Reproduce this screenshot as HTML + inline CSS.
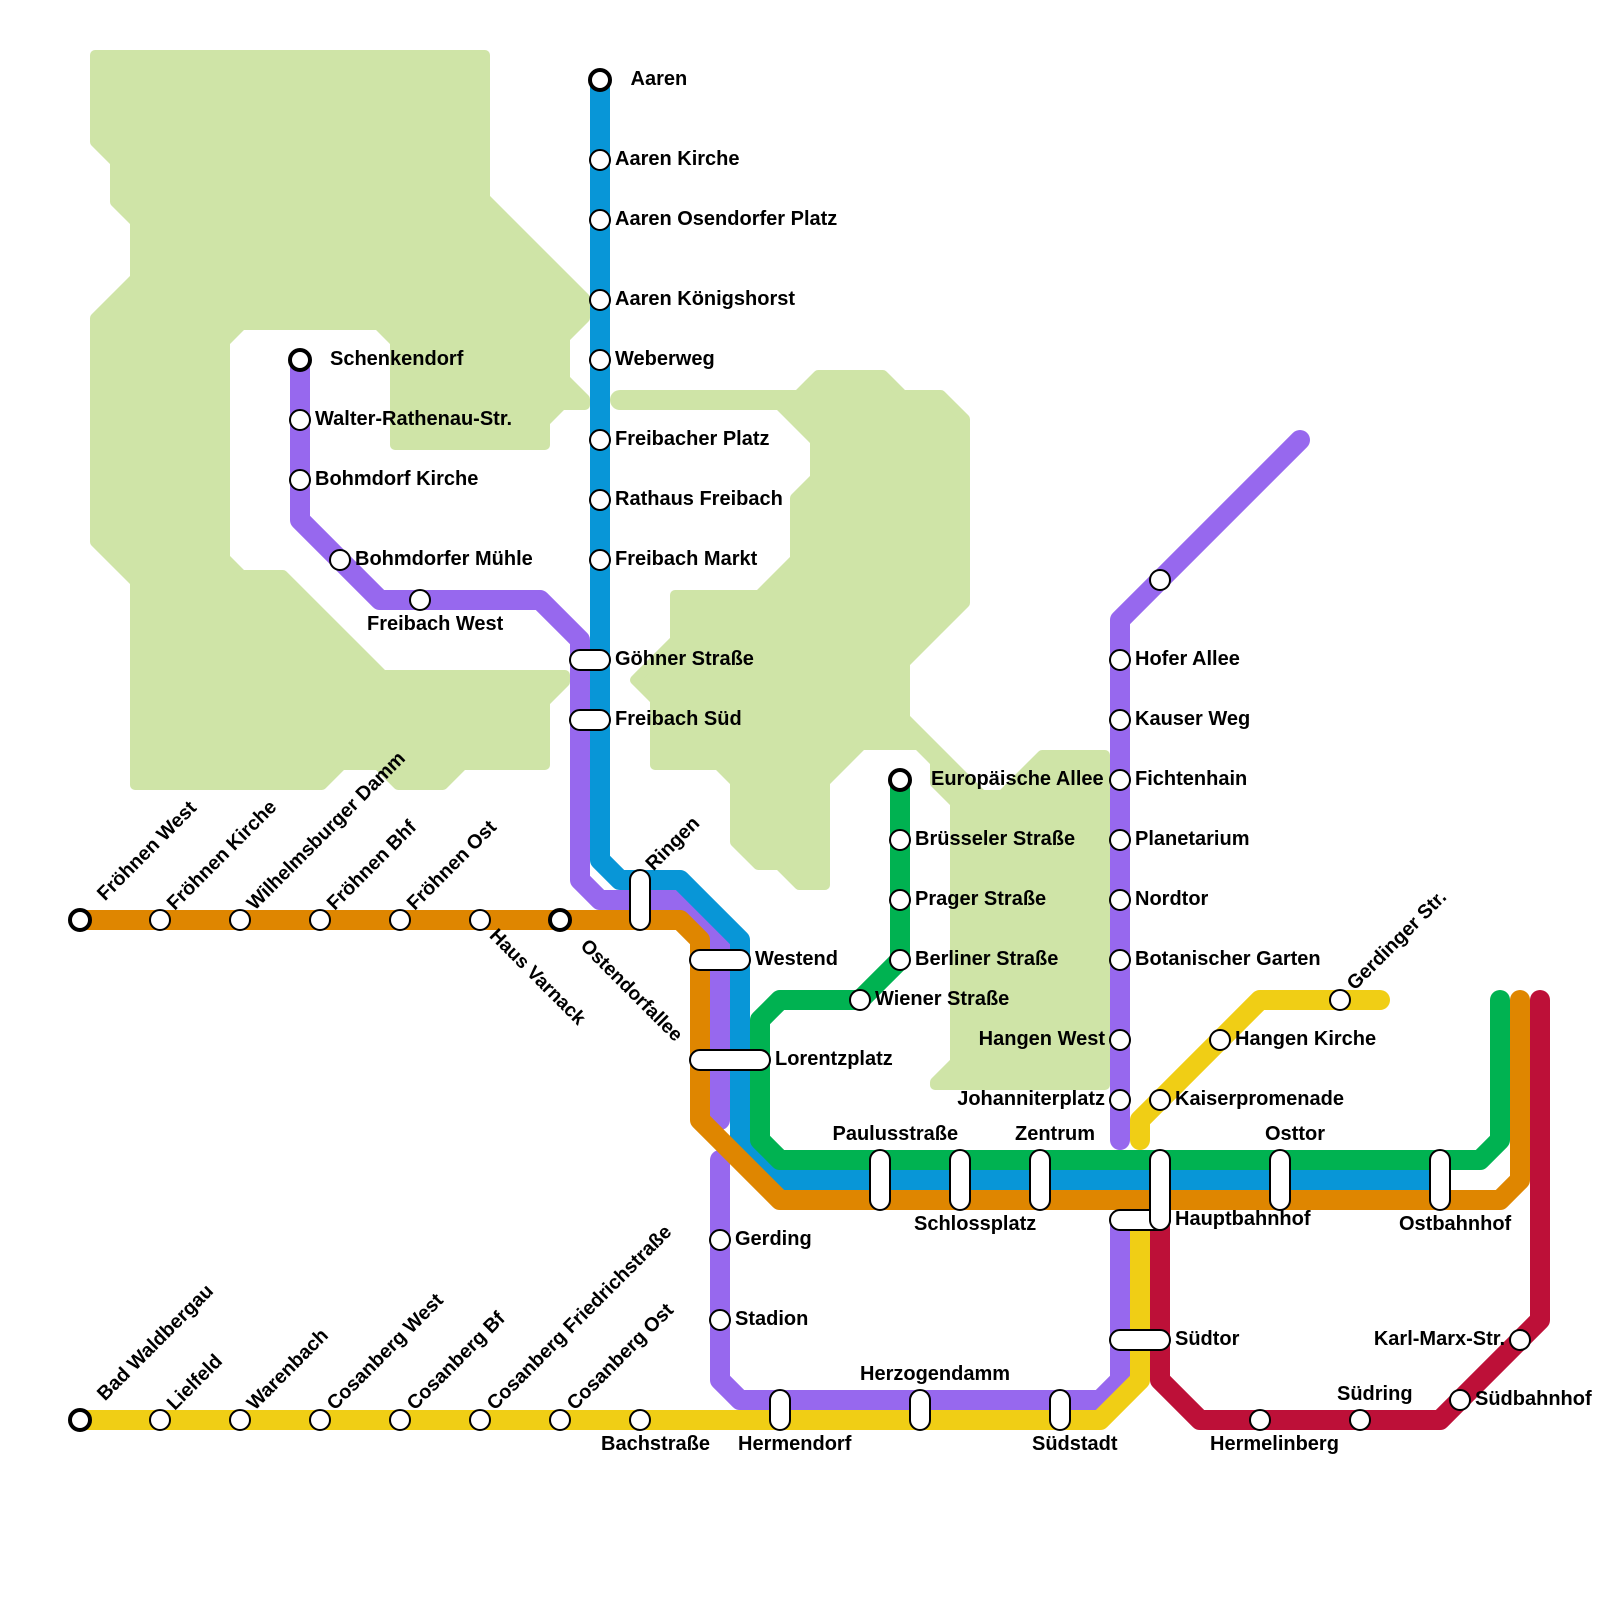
<!DOCTYPE html>
<html><head><meta charset="utf-8"><style>
html,body{margin:0;padding:0;background:#fff}
svg{display:block}
text{font-family:"Liberation Sans",sans-serif;font-weight:bold;font-size:20px;fill:#000}
text.r{font-size:19.7px}
text.d{font-size:19.3px}
.l{fill:none;stroke-width:20;stroke-linecap:round;stroke-linejoin:round}
.s circle{fill:#fff;stroke:#000;stroke-width:2}
.s circle.e{stroke-width:4}
.s rect{fill:#fff;stroke:#000;stroke-width:2}
.g{fill:#cfe4a7;stroke:#cfe4a7;stroke-width:10;stroke-linejoin:round}
</style></head><body>
<svg xmlns="http://www.w3.org/2000/svg" width="1600" height="1600" viewBox="0 0 1600 1600">
<rect width="1600" height="1600" fill="#fff"/>
<polygon class="g" points="95,55 485,55 485,198.07 585,298.07 585,317.93 565,337.93 565,379.07 585,399.07 585,405 561.93,405 545,421.93 545,445 395,445 395,341.93 378.07,325 241.93,325 225,341.93 225,558.07 241.93,575 282.93,575 382.93,675 565,675 565,681.93 545,701.93 545,765 462.93,765 442.93,785 398.07,785 378.07,765 341.93,765 321.93,785 135,785 135,581.93 95,541.93 95,318.07 135,278.07 135,221.93 115,201.93 115,161.93 95,141.93"/>
<polygon class="g" points="640,395 798.07,395 818.07,375 882.93,375 902.93,395 940.93,395 965,419.07 965,602.93 905,662.93 905,718.07 981.93,795 1002.07,795 1042.07,755 1105,755 1105,1085 935,1085 935,1082.07 955,1062.07 955,802.93 935,782.93 935,761.93 918.07,745 861.93,745 825,781.93 825,885 799.07,885 779.07,865 758.07,865 735,841.93 735,781.93 718.07,765 655,765 655,699.93 635,680 675,640.07 675,595 759.07,595 795,559.07 795,498.07 815,478.07 815,440.93 779.07,405 640,405"/>
<line x1="620" y1="400" x2="700" y2="400" stroke="#cfe4a7" stroke-width="20" stroke-linecap="round"/>
<polyline class="l" stroke="#9768ee" points="300,360 300,520 380,600 540,600 580,640 580,880 600,900 680,900 720,940 720,1120"/>
<polyline class="l" stroke="#9768ee" points="720,1160 720,1380 740,1400 1100,1400 1120,1380 1120,1220"/>
<polyline class="l" stroke="#9768ee" points="1300,440 1120,620 1120,1140"/>
<polyline class="l" stroke="#0896d7" points="600,80 600,860 620,880 680,880 740,940 740,1140 780,1180 1440,1180"/>
<polyline class="l" stroke="#00b251" points="900,780 900,960 860,1000 780,1000 760,1020 760,1140 780,1160 1480,1160 1500,1140 1500,1000"/>
<polyline class="l" stroke="#df8600" points="80,920 680,920 700,940 700,1120 780,1200 1500,1200 1520,1180 1520,1000"/>
<polyline class="l" stroke="#bd1038" points="1160,1220 1160,1380 1200,1420 1440,1420 1540,1320 1540,1000"/>
<polyline class="l" stroke="#f0ce15" points="80,1420 1100,1420 1140,1380 1140,1220"/>
<polyline class="l" stroke="#f0ce15" points="1140,1140 1140,1120 1260,1000 1380,1000"/>
<g class="s">
<circle class="e" cx="600" cy="80" r="10"/><circle cx="600" cy="160" r="10"/><circle cx="600" cy="220" r="10"/><circle cx="600" cy="300" r="10"/><circle cx="600" cy="360" r="10"/><circle cx="600" cy="440" r="10"/><circle cx="600" cy="500" r="10"/><circle cx="600" cy="560" r="10"/>
<circle class="e" cx="300" cy="360" r="10"/><circle cx="300" cy="420" r="10"/><circle cx="300" cy="480" r="10"/><circle cx="340" cy="560" r="10"/><circle cx="420" cy="600" r="10"/>
<circle class="e" cx="80" cy="920" r="10"/><circle cx="160" cy="920" r="10"/><circle cx="240" cy="920" r="10"/><circle cx="320" cy="920" r="10"/><circle cx="400" cy="920" r="10"/><circle cx="480" cy="920" r="10"/><circle class="e" cx="560" cy="920" r="10"/>
<circle class="e" cx="80" cy="1420" r="10"/><circle cx="160" cy="1420" r="10"/><circle cx="240" cy="1420" r="10"/><circle cx="320" cy="1420" r="10"/><circle cx="400" cy="1420" r="10"/><circle cx="480" cy="1420" r="10"/><circle cx="560" cy="1420" r="10"/><circle cx="640" cy="1420" r="10"/>
<circle class="e" cx="900" cy="780" r="10"/><circle cx="900" cy="840" r="10"/><circle cx="900" cy="900" r="10"/><circle cx="900" cy="960" r="10"/><circle cx="860" cy="1000" r="10"/>
<circle cx="1160" cy="580" r="10"/><circle cx="1120" cy="660" r="10"/><circle cx="1120" cy="720" r="10"/><circle cx="1120" cy="780" r="10"/><circle cx="1120" cy="840" r="10"/><circle cx="1120" cy="900" r="10"/><circle cx="1120" cy="960" r="10"/><circle cx="1120" cy="1040" r="10"/><circle cx="1120" cy="1100" r="10"/>
<circle cx="720" cy="1240" r="10"/><circle cx="720" cy="1320" r="10"/>
<circle cx="1160" cy="1100" r="10"/><circle cx="1220" cy="1040" r="10"/><circle cx="1340" cy="1000" r="10"/>
<circle cx="1260" cy="1420" r="10"/><circle cx="1360" cy="1420" r="10"/><circle cx="1460" cy="1400" r="10"/><circle cx="1520" cy="1340" r="10"/>
<rect x="570" y="650" width="40" height="20" rx="10"/><rect x="570" y="710" width="40" height="20" rx="10"/>
<rect x="630" y="870" width="20" height="60" rx="10"/>
<rect x="690" y="950" width="60" height="20" rx="10"/><rect x="690" y="1050" width="80" height="20" rx="10"/>
<rect x="870" y="1150" width="20" height="60" rx="10"/><rect x="950" y="1150" width="20" height="60" rx="10"/><rect x="1030" y="1150" width="20" height="60" rx="10"/>
<rect x="1110" y="1210" width="60" height="20" rx="10"/><rect x="1150" y="1150" width="20" height="80" rx="10"/>
<rect x="1270" y="1150" width="20" height="60" rx="10"/><rect x="1430" y="1150" width="20" height="60" rx="10"/>
<rect x="1110" y="1330" width="60" height="20" rx="10"/>
<rect x="770" y="1390" width="20" height="40" rx="10"/><rect x="910" y="1390" width="20" height="40" rx="10"/><rect x="1050" y="1390" width="20" height="40" rx="10"/>
</g>
<g>
<text x="630.5" y="85">Aaren</text><text x="615" y="165">Aaren Kirche</text><text x="615" y="225">Aaren Osendorfer Platz</text><text x="615" y="305">Aaren Königshorst</text><text x="615" y="365">Weberweg</text><text x="615" y="445">Freibacher Platz</text><text x="615" y="505">Rathaus Freibach</text><text x="615" y="565">Freibach Markt</text><text x="615" y="665">Göhner Straße</text><text x="615" y="725">Freibach Süd</text>
<text x="330" y="365">Schenkendorf</text><text x="315" y="425">Walter-Rathenau-Str.</text><text x="315" y="485">Bohmdorf Kirche</text><text x="355" y="565">Bohmdorfer Mühle</text><text x="367" y="630">Freibach West</text>
<text x="755" y="965">Westend</text><text x="775" y="1065">Lorentzplatz</text>
<text x="931" y="785">Europäische Allee</text><text x="915" y="845">Brüsseler Straße</text><text x="915" y="905">Prager Straße</text><text x="915" y="965">Berliner Straße</text><text x="875" y="1005">Wiener Straße</text>
<text x="1135" y="665">Hofer Allee</text><text x="1135" y="725">Kauser Weg</text><text x="1135" y="785">Fichtenhain</text><text x="1135" y="845">Planetarium</text><text x="1135" y="905">Nordtor</text><text x="1135" y="965">Botanischer Garten</text>
<text x="1105" y="1045" text-anchor="end">Hangen West</text><text x="1105" y="1105" text-anchor="end">Johanniterplatz</text>
<text x="1235" y="1045">Hangen Kirche</text><text x="1175" y="1105">Kaiserpromenade</text>
<text x="832.5" y="1140">Paulusstraße</text><text x="1015" y="1140">Zentrum</text><text x="1265" y="1140">Osttor</text>
<text x="914" y="1230">Schlossplatz</text><text x="1399" y="1230">Ostbahnhof</text><text x="1175" y="1225">Hauptbahnhof</text><text x="1175" y="1345">Südtor</text>
<text x="1505" y="1345" text-anchor="end">Karl-Marx-Str.</text><text x="1475" y="1405">Südbahnhof</text>
<text x="1210" y="1450">Hermelinberg</text><text x="1337" y="1400">Südring</text><text x="1032" y="1450">Südstadt</text><text x="738" y="1450">Hermendorf</text><text x="601" y="1450">Bachstraße</text><text x="860" y="1380">Herzogendamm</text>
<text x="735" y="1245">Gerding</text><text x="735" y="1325">Stadion</text>
<text class="r" transform="translate(105,901.5) rotate(-45)">Fröhnen West</text>
<text class="r" transform="translate(174.7,911) rotate(-45)">Fröhnen Kirche</text>
<text class="r" transform="translate(254.7,911) rotate(-45)">Wilhelmsburger Damm</text>
<text class="r" transform="translate(334.7,911) rotate(-45)">Fröhnen Bhf</text>
<text class="r" transform="translate(414.7,911) rotate(-45)">Fröhnen Ost</text>
<text class="d" transform="translate(488.5,936.5) rotate(45)">Haus Varnack</text>
<text class="d" transform="translate(579.5,947) rotate(45)">Ostendorfallee</text>
<text class="r" transform="translate(653.5,871.5) rotate(-45)">Ringen</text>
<text class="r" transform="translate(105,1401.5) rotate(-45)">Bad Waldbergau</text>
<text class="r" transform="translate(174.7,1411) rotate(-45)">Lielfeld</text>
<text class="r" transform="translate(254.7,1411) rotate(-45)">Warenbach</text>
<text class="r" transform="translate(334.7,1411) rotate(-45)">Cosanberg West</text>
<text class="r" transform="translate(414.7,1411) rotate(-45)">Cosanberg Bf</text>
<text class="r" transform="translate(494.7,1411) rotate(-45)">Cosanberg Friedrichstraße</text>
<text class="r" transform="translate(574.7,1411) rotate(-45)">Cosanberg Ost</text>
<text class="r" transform="translate(1354.7,991) rotate(-45)">Gerdinger Str.</text>
</g>
</svg>
</body></html>
